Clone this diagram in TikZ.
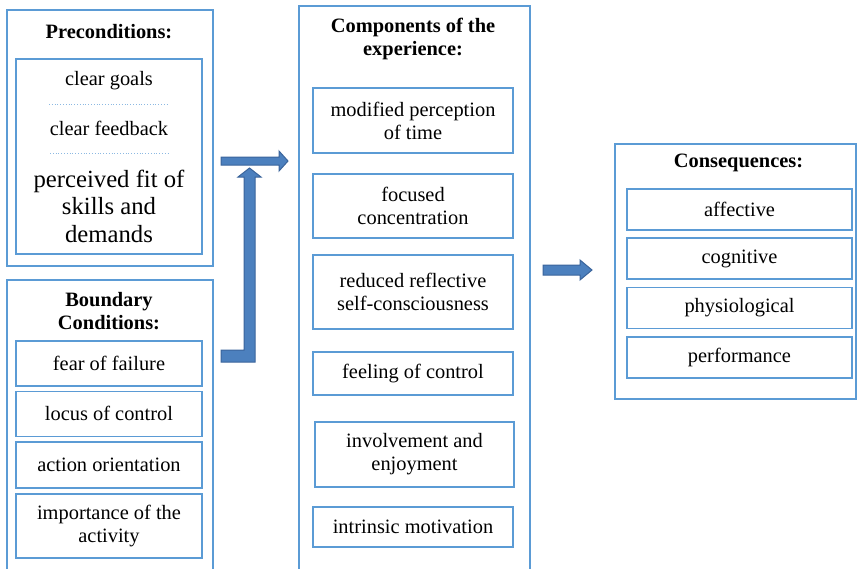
\documentclass[tikz,border=0pt]{standalone}
\usepackage{fontspec}
\setmainfont{Liberation Serif}
\definecolor{FlowBlue}{RGB}{91,155,213}
\definecolor{ArrowBlue}{RGB}{76,128,190}
\definecolor{ArrowEdge}{RGB}{58,100,155}
\usetikzlibrary{positioning,calc}

\begin{document}
\begin{tikzpicture}[x=0.5pt,y=-0.5pt,font=\fontsize{10.2}{11.5}\selectfont,
  outerbox/.style={draw=FlowBlue,line width=0.75pt,anchor=north west,inner sep=0pt},
  itembox/.style={draw=FlowBlue,line width=0.9pt,align=center,inner sep=1pt},
  headline/.style={font=\fontsize{10.2}{11.5}\selectfont\bfseries,align=center},
  blockarrow/.style={fill=ArrowBlue,draw=ArrowEdge,line width=0.5pt},
  sepline/.style={draw=FlowBlue!70,densely dotted,line width=0.4pt}]
\clip (0,0) rectangle (857,568);
% frames of the four groups
\node[outerbox,minimum width=103pt,minimum height=128pt] (pre) at (6,9) {};
\node[outerbox,minimum width=103pt,minimum height=152pt] (bound) at (6,279) {};
\node[outerbox,minimum width=115.5pt,minimum height=292pt] (comp) at (298,5) {};
\node[outerbox,minimum width=120.5pt,minimum height=127.5pt] (cons) at (614,143) {};
\node[headline] (pretitle) at (109,32) {Preconditions:};
\node[headline] (boundtitle) at (109,311.5) {Boundary\\Conditions:};
\node[headline] (comptitle) at (413,38.5) {Components of the\\experience:};
\node[headline] (constitle) at (738.5,163) {Consequences:};

% preconditions
\node[itembox,minimum width=93pt,minimum height=97.5pt] (precond) at (109,156.5) {};
\node (goals) at (109,81) {clear goals};
\node (feedback) at (109,128) {clear feedback};
\node[align=center,font=\fontsize{12.35}{13.75}\selectfont] (fit) at (109,206)
  {perceived fit of\\skills and\\demands};
\draw[sepline] (49,104) -- (168,104);
\draw[sepline] (50,153) -- (168,153);

% boundary conditions
\node[itembox,minimum width=93pt,minimum height=22.5pt] (fear) at (109,363.5) {fear of failure};
\node[itembox,minimum width=93pt,minimum height=22.5pt,below=1.8pt of fear] (locus) {locus of control};
\node[itembox,minimum width=93pt,minimum height=23pt,below=1.8pt of locus] (action) {action orientation};
\node[itembox,minimum width=93pt,minimum height=32pt,below=2.3pt of action] (importance)
  {importance of the\\activity};

% components of the experience
\node[itembox,minimum width=100pt,minimum height=32.5pt] (time) at (413,120.5) {modified perception\\of time};
\node[itembox,minimum width=100pt,minimum height=32pt] (focus) at (413,206) {focused\\concentration};
\node[itembox,minimum width=100pt,minimum height=37pt] (reflect) at (413,292) {reduced reflective\\self-consciousness};
\node[itembox,minimum width=100pt,minimum height=21.5pt] (control) at (413,373.5) {feeling of control};
\node[itembox,minimum width=99.5pt,minimum height=32.5pt] (enjoy) at (414.5,454.5) {involvement and\\enjoyment};
\node[itembox,minimum width=100pt,minimum height=20pt] (motive) at (413,527) {intrinsic motivation};

% consequences
\node[itembox,minimum width=112.5pt,minimum height=20.5pt] (affect) at (739.5,209.5) {affective};
\node[itembox,minimum width=112.5pt,minimum height=20.5pt,below=3.2pt of affect] (cogn) {cognitive};
\node[itembox,minimum width=112.5pt,minimum height=20.5pt,below=3.2pt of cogn] (physio) {physiological};
\node[itembox,minimum width=112.5pt,minimum height=20.5pt,below=3.2pt of physio] (perf) {performance};

% block arrows
\coordinate (intail) at (221,161);
\coordinate (uptail) at (221,356);
\coordinate (outtail) at (543,270);
\draw[blockarrow] (intail) ++(0,-4) -- ++(58,0) -- ++(0,-6) -- ++(9,10) -- ++(-9,10)
  -- ++(0,-6) -- ++(-58,0) -- cycle;
\draw[blockarrow] (uptail) ++(0,-6) -- ++(23,0) -- ++(0,-173) -- ++(-6,0) -- ++(11.5,-9)
  -- ++(11.5,9) -- ++(-6,0) -- ++(0,185) -- ++(-34,0) -- cycle;
\draw[blockarrow] (outtail) ++(0,-5) -- ++(37,0) -- ++(0,-5) -- ++(12,10) -- ++(-12,10)
  -- ++(0,-5) -- ++(-37,0) -- cycle;
\end{tikzpicture}
\end{document}
